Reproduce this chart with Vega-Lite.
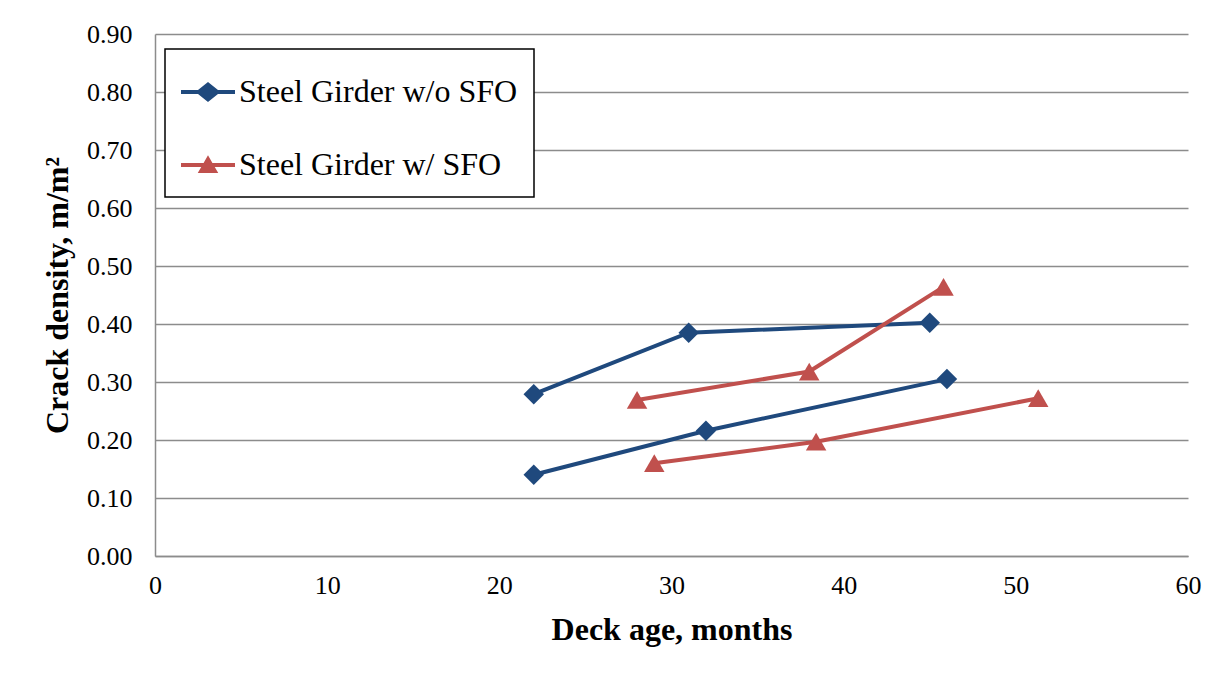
{
  "$schema": "https://vega.github.io/schema/vega-lite/v6.json",
  "width": 1033,
  "height": 522,
  "autosize": {"type": "none"},
  "padding": {"left": 155, "top": 34, "right": 38, "bottom": 120},
  "background": "white",
  "config": {
    "font": "Liberation Serif",
    "view": {"stroke": null},
    "axis": {
      "labelFont": "Liberation Serif",
      "titleFont": "Liberation Serif",
      "labelColor": "black",
      "titleColor": "black",
      "labelFontSize": 26,
      "titleFontSize": 32,
      "titleFontWeight": "bold",
      "domainColor": "#8c8c8c",
      "domainWidth": 1.5,
      "ticks": false,
      "labelFlush": false
    },
    "legend": {
      "title": null,
      "orient": "none",
      "legendX": 10,
      "legendY": 15,
      "strokeColor": "black",
      "strokeWidth": 1.5,
      "fillColor": "white",
      "padding": 16,
      "labelFont": "Liberation Serif",
      "labelFontSize": 32,
      "labelColor": "black",
      "labelLimit": 0,
      "symbolSize": 2916,
      "symbolStrokeWidth": 0,
      "rowPadding": 30,
      "labelOffset": 4
    }
  },
  "data": {
    "values": [
      {"series": "Steel Girder w/o SFO", "group": "A1", "age": 22, "density": 0.279},
      {"series": "Steel Girder w/o SFO", "group": "A1", "age": 31, "density": 0.385},
      {"series": "Steel Girder w/o SFO", "group": "A1", "age": 45, "density": 0.402},
      {"series": "Steel Girder w/o SFO", "group": "A2", "age": 22, "density": 0.140},
      {"series": "Steel Girder w/o SFO", "group": "A2", "age": 32, "density": 0.216},
      {"series": "Steel Girder w/o SFO", "group": "A2", "age": 46, "density": 0.305},
      {"series": "Steel Girder w/ SFO", "group": "B1", "age": 28, "density": 0.269},
      {"series": "Steel Girder w/ SFO", "group": "B1", "age": 38, "density": 0.318},
      {"series": "Steel Girder w/ SFO", "group": "B1", "age": 45.8, "density": 0.464},
      {"series": "Steel Girder w/ SFO", "group": "B2", "age": 29, "density": 0.160},
      {"series": "Steel Girder w/ SFO", "group": "B2", "age": 38.4, "density": 0.197},
      {"series": "Steel Girder w/ SFO", "group": "B2", "age": 51.3, "density": 0.272}
    ]
  },
  "encoding": {
    "x": {
      "field": "age",
      "type": "quantitative",
      "scale": {"domain": [0, 60], "nice": false},
      "axis": {
        "title": "Deck age, months",
        "values": [0, 10, 20, 30, 40, 50, 60],
        "grid": false,
        "labelPadding": 16,
        "titlePadding": 16
      }
    },
    "y": {
      "field": "density",
      "type": "quantitative",
      "scale": {"domain": [0, 0.9], "nice": false},
      "axis": {
        "title": "Crack density, m/m²",
        "values": [0, 0.1, 0.2, 0.3, 0.4, 0.5, 0.6, 0.7, 0.8, 0.9],
        "format": ".2f",
        "grid": true,
        "gridColor": "#8c8c8c",
        "gridWidth": 1.5,
        "labelPadding": 23,
        "titlePadding": 12
      }
    }
  },
  "layer": [
    {
      "mark": {"type": "line", "strokeWidth": 4},
      "encoding": {
        "color": {
          "field": "series",
          "type": "nominal",
          "scale": {"domain": ["Steel Girder w/o SFO", "Steel Girder w/ SFO"], "range": ["#1F497D", "#C0504D"]},
          "legend": null
        },
        "detail": {"field": "group"}
      }
    },
    {
      "mark": {"type": "point", "filled": true, "size": 420, "opacity": 1},
      "encoding": {
        "color": {
          "field": "series",
          "type": "nominal",
          "scale": {"domain": ["Steel Girder w/o SFO", "Steel Girder w/ SFO"], "range": ["#1F497D", "#C0504D"]},
          "legend": null
        },
        "shape": {
          "field": "series",
          "type": "nominal",
          "scale": {"domain": ["Steel Girder w/o SFO", "Steel Girder w/ SFO"], "range": ["diamond", "triangle-up"]},
          "legend": null
        }
      }
    },
    {
      "transform": [{"filter": "false"}],
      "mark": {"type": "point", "filled": true, "size": 420, "opacity": 1},
      "encoding": {
        "color": {
          "field": "series",
          "type": "nominal",
          "scale": {"domain": ["Steel Girder w/o SFO", "Steel Girder w/ SFO"], "range": ["#1F497D", "#C0504D"]},
          "legend": {}
        },
        "shape": {
          "field": "series",
          "type": "nominal",
          "scale": {"domain": ["Steel Girder w/o SFO", "Steel Girder w/ SFO"], "range": ["M-1,-0.075H-0.37L0,-0.37L0.37,-0.075H1V0.075H0.37L0,0.37L-0.37,0.075H-1Z", "M-1,-0.075H-0.164L0,-0.36L0.164,-0.075H1V0.075H0.25L0.38,0.3H-0.38L-0.25,0.075H-1Z"]},
          "legend": {}
        }
      }
    }
  ],
  "resolve": {
    "scale": {"shape": "independent"},
    "legend": {"color": "independent", "shape": "independent"}
  }
}
